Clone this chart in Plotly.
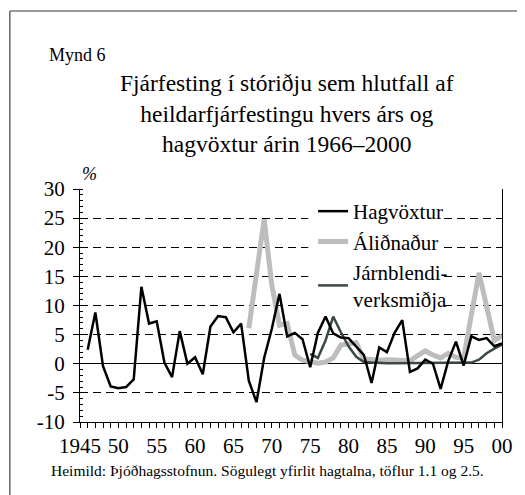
import plotly.graph_objects as go

years = list(range(1946, 2001))

hagvoxtur = [2.4, 8.8, -0.4, -3.9, -4.2, -4.0, -2.7, 13.2, 6.9, 7.3,
             0.2, -2.3, 5.6, 0.0, 1.1, -1.8, 6.4, 8.2, 8.0, 5.4,
             6.9, -2.9, -6.6, 1.0, 6.0, 12.0, 4.7, 5.3, 4.2, -0.6,
             5.3, 8.1, 5.2, 4.5, 4.4, 3.0, 1.5, -3.3, 2.8, 2.0,
             5.3, 7.5, -1.4, -0.8, 0.7, 0.0, -4.3, 0.5, 3.8, -0.3,
             4.7, 4.1, 4.4, 3.0, 3.5]

alidnadur_years = list(range(1967, 2001))
alidnadur = [6.1, 15.4, 24.8, 13.5, 6.6, 6.9, 1.5, 0.6, 0.3, 0.1,
             0.3, 1.0, 3.2, 3.5, 3.6, 0.8, 0.6, 0.6, 0.7, 0.7,
             0.7, 0.5, 1.4, 2.2, 1.5, 1.0, 1.8, 1.1, 1.0, 8.2,
             15.6, 9.8, 4.0, 4.8]

jarn_years = list(range(1975, 2001))
jarnblendi = [1.7, 1.0, 4.0, 8.1, 5.4, 3.0, 1.2, 0.3, 0.2, 0.1,
              0.1, 0.1, 0.1, 0.1, 0.1, 0.1, 0.1, 0.1, 0.1, 0.1,
              0.1, 0.2, 0.7, 1.8, 2.6, 3.3]

xtick_vals = [1945, 1950, 1955, 1960, 1965, 1970, 1975, 1980, 1985, 1990, 1995, 2000]
xtick_text = ["1945", "50", "55", "60", "65", "70", "75", "80", "85", "90", "95", "00"]
ytick_vals = [-10, -5, 0, 5, 10, 15, 20, 25, 30]
ytick_text = ["-10", "-5", "0", "5", "10", "15", "20", "25", "30"]

FONT = "Liberation Serif"

# plot area on screen: x 80..507, y 189..422 ; page body has 8px margin
PX0, PW, PY1, PH = 80, 427, 422, 233


def px(xs):
    return (xs - PX0) / PW


def py(ys):
    return (PY1 - ys) / PH


fig = go.Figure()
fig.add_trace(go.Scatter(x=alidnadur_years, y=alidnadur, mode="lines", name="Áliðnaður",
                         line=dict(color="#bdbdbd", width=5), legendrank=2))
fig.add_trace(go.Scatter(x=jarn_years, y=jarnblendi, mode="lines", name="Járnblendi-<br>verksmiðja",
                         line=dict(color="#3b4848", width=2.5), legendrank=3))
fig.add_trace(go.Scatter(x=years, y=hagvoxtur, mode="lines", name="Hagvöxtur",
                         line=dict(color="#000000", width=2.5), legendrank=1))

fig.update_layout(
    width=517, height=487,
    margin=dict(l=72, r=18, t=181, b=73),
    paper_bgcolor="white", plot_bgcolor="white",
    font=dict(family=FONT, color="black", size=20),
    showlegend=True,
    legend=dict(x=px(318) - 0.005, y=py(191), xanchor="left", yanchor="top",
                bgcolor="rgba(0,0,0,0)", font=dict(family=FONT, size=21, color="black"),
                itemwidth=30, traceorder="normal"),
    xaxis=dict(range=[1945, 2000], tickvals=xtick_vals, ticktext=xtick_text,
               ticks="outside", ticklen=5, tickcolor="black",
               minor=dict(dtick=1, tick0=1945, ticks="outside", ticklen=5, tickcolor="black"),
               showline=True, linecolor="black", linewidth=1, showgrid=False, zeroline=False,
               tickfont=dict(family=FONT, size=21)),
    yaxis=dict(range=[-10, 30], tickvals=ytick_vals, ticktext=ytick_text,
               ticks="outside", ticklen=6, tickcolor="black", ticklabelstandoff=4,
               minor=dict(dtick=1, tick0=0, ticks="inside", ticklen=3, tickcolor="black"),
               showline=True, mirror=True, linecolor="black", linewidth=1,
               showgrid=True, gridcolor="black", gridwidth=1, griddash="8px,5px",
               zeroline=True, zerolinecolor="black", zerolinewidth=1,
               tickfont=dict(family=FONT, size=21)),
)

# white legend background (region holds no data)
fig.add_shape(type="rect", xref="paper", yref="paper", layer="above",
              x0=px(311), x1=px(446), y0=py(309), y1=py(198),
              line=dict(width=0), fillcolor="white")

fig.add_annotation(text="Mynd 6", xref="paper", yref="paper",
                   x=px(47), y=py(55), xanchor="left", yanchor="middle",
                   showarrow=False, font=dict(family=FONT, size=18))
fig.add_annotation(text="Fjárfesting í stóriðju sem hlutfall af<br>heildarfjárfestingu hvers árs og<br>hagvöxtur árin 1966–2000",
                   xref="paper", yref="paper",
                   x=px(289), y=py(113), xanchor="center", yanchor="middle",
                   showarrow=False, font=dict(family=FONT, size=23.5))
fig.add_annotation(text="<i>%</i>", xref="paper", yref="paper",
                   x=px(90), y=py(174), xanchor="center", yanchor="middle",
                   showarrow=False, font=dict(family=FONT, size=18))
fig.add_annotation(text="Heimild: Þjóðhagsstofnun. Sögulegt yfirlit hagtalna, töflur 1.1 og 2.5.",
                   xref="paper", yref="paper",
                   x=px(270), y=py(470), xanchor="center", yanchor="middle",
                   showarrow=False, font=dict(family=FONT, size=15.5))

# outer frame (top and left edges)
fig.add_shape(type="line", xref="paper", yref="paper",
              x0=px(9), x1=px(540), y0=py(11), y1=py(11),
              line=dict(color="#999999", width=2))
fig.add_shape(type="line", xref="paper", yref="paper",
              x0=px(9), x1=px(9), y0=py(11), y1=py(510),
              line=dict(color="#666666", width=1.5))

fig.write_html("out.html")
